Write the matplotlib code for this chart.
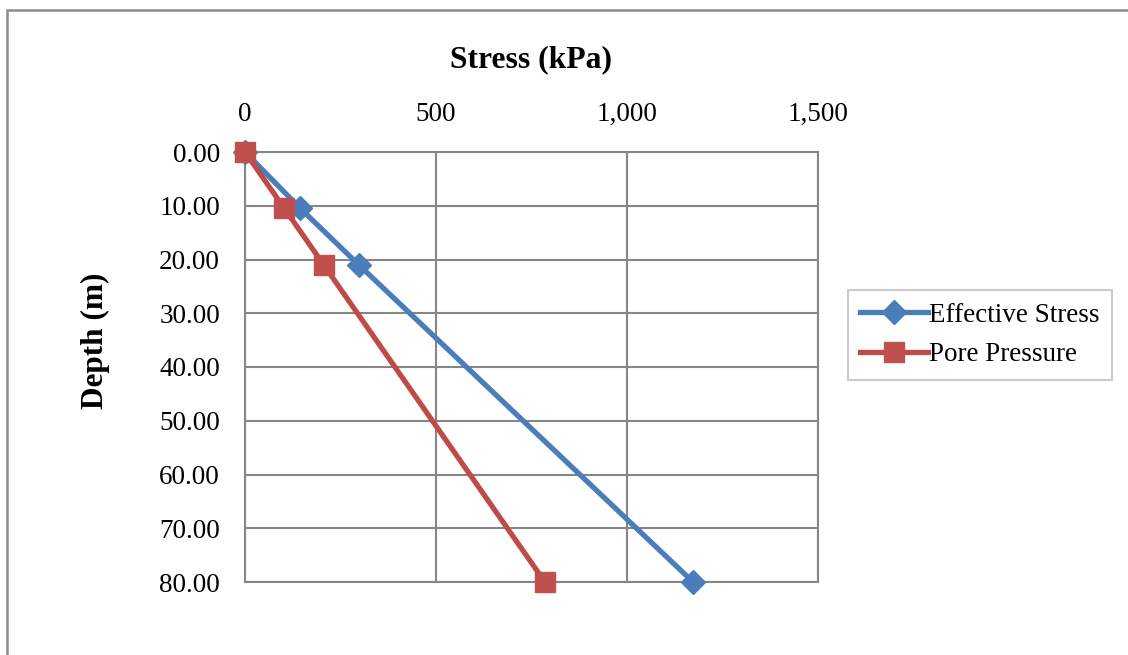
import matplotlib
matplotlib.use("Agg")
import matplotlib.pyplot as plt
from matplotlib.ticker import FuncFormatter, MultipleLocator
from matplotlib.patches import Rectangle

depth = [0.0, 10.5, 21.0, 80.0]
effective_stress = [0, 145, 298, 1173]
pore_pressure = [0, 103, 206, 785]
series_names = ["Effective Stress", "Pore Pressure"]

plt.rcParams['font.family'] = ['Liberation Serif', 'DejaVu Serif']

W, H = 1128, 655
fig = plt.figure(figsize=(W / 100, H / 100), dpi=100)
ax = fig.add_axes([245 / W, 1 - 582 / H, (818 - 245) / W, (582 - 152) / H])

grid_c = '#868686'
ax.plot(effective_stress, depth, color='#4A7EBB', lw=3.8, marker='D', ms=12,
        mfc='#4A7EBB', mec='#4A7EBB', label=series_names[0], zorder=3, clip_on=False)
ax.plot(pore_pressure, depth, color='#BE4B48', lw=3.8, marker='s', ms=14,
        mfc='#C0504D', mec='#C0504D', label=series_names[1], zorder=4, clip_on=False)

ax.set_xlim(0, 1500)
ax.set_ylim(80, 0)
ax.xaxis.set_major_locator(MultipleLocator(500))
ax.yaxis.set_major_locator(MultipleLocator(10))
ax.xaxis.set_major_formatter(FuncFormatter(lambda v, p: f"{v:,.0f}"))
ax.yaxis.set_major_formatter(FuncFormatter(lambda v, p: f"{v:.2f}"))
ax.xaxis.tick_top()
ax.tick_params(axis='both', length=0, labelsize=19.5, colors='black')
ax.tick_params(axis='x', pad=18)
ax.tick_params(axis='y', pad=18)
ax.grid(True, color=grid_c, lw=1.5)
ax.set_axisbelow(True)
for s in ax.spines.values():
    s.set_color(grid_c)
    s.set_linewidth(1.5)

fig.text(531 / W, 1 - 60 / H, "Stress (kPa)", fontsize=22.8, fontweight='bold',
         ha='center', va='center')
fig.text(95 / W, 1 - 341 / H, "Depth (m)", fontsize=22.5, fontweight='bold',
         ha='center', va='center', rotation=90)

leg = fig.legend(loc='center left', bbox_to_anchor=(848 / W, 1 - 335 / H),
                 fontsize=19.5, frameon=True, fancybox=False, edgecolor='#BFBFBF',
                 handlelength=2.5, handletextpad=0.05, borderpad=0.45, labelspacing=0.55,
                 borderaxespad=0)
leg.get_frame().set_linewidth(1.5)

fig.patches.append(Rectangle((7 / W, -0.1), 1.2, 1 - 10 / H + 0.1, transform=fig.transFigure,
                             fill=False, edgecolor='#8C8C8C', lw=1.8))

fig.savefig("out.png", dpi=100)
